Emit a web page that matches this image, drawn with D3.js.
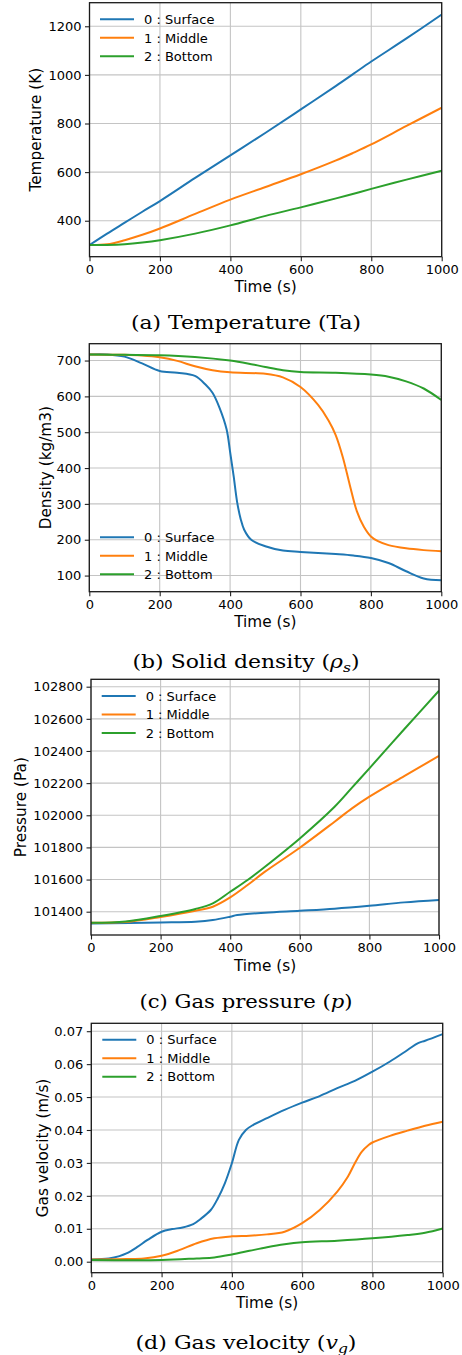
<!DOCTYPE html>
<html>
<head>
<meta charset="utf-8">
<script src="https://cdn.jsdelivr.net/npm/d3@7"></script>
<style>
  body { margin: 0; background: #fff; }
  svg { display: block; }
  text { font-family: "DejaVu Sans", sans-serif; fill: #000; }
  .caption { font-family: "DejaVu Serif", serif; }
</style>
</head>
<body>
<svg id="fig" width="462" height="1355"></svg>
<script>
// ---------------- DATA
var seriesNames = ['0 : Surface', '1 : Middle', '2 : Bottom'];
var xTicks = [0, 200, 400, 600, 800, 1000];

// (a) temperature
var tempTime = [0, 50, 100, 150, 200, 300, 400, 500, 600, 700, 750, 800, 900, 1000];
var tempSurface = [300, 347, 392, 437, 481, 576, 669, 762, 858, 955, 1005, 1055, 1150, 1248];
var tempMiddle = [300, 303, 320, 342, 368, 428, 487, 539, 591, 648, 680, 714, 790, 865];
var tempBottom = [300, 300, 303, 310, 320, 347, 381, 420, 455, 492, 511, 531, 569, 606];
var tempTicks = [400, 600, 800, 1000, 1200];
var tempLim = [252, 1297];

// (b) solid density
var densTimeSurface = [0, 50, 100, 150, 200, 250, 300, 330, 350, 370, 390, 400, 410, 420, 430, 440, 460, 500, 550, 600, 700, 750, 800, 850, 900, 950, 1000];
var densSurface = [717, 717, 711, 692, 671, 666, 657, 633, 610, 568, 508, 445, 378, 305, 258, 228, 200, 182, 170, 166, 160, 156, 149, 135, 112, 92, 87];
var densTimeMiddle = [0, 100, 150, 200, 250, 300, 350, 400, 500, 550, 600, 650, 680, 700, 720, 740, 760, 780, 800, 820, 850, 900, 950, 1000];
var densMiddle = [717, 716, 714, 709, 699, 684, 673, 667, 663, 653, 626, 576, 532, 492, 431, 353, 280, 236, 209, 196, 185, 176, 171, 168];
var densTimeBottom = [0, 100, 200, 300, 400, 450, 500, 550, 600, 700, 800, 850, 900, 950, 1000];
var densBottom = [717, 716, 715, 710, 700, 692, 682, 673, 668, 666, 661, 655, 642, 622, 590];
var densTicks = [100, 200, 300, 400, 500, 600, 700];
var densLim = [55, 747];

// (c) gas pressure
var presTimeSurface = [0, 200, 300, 350, 400, 420, 500, 600, 700, 800, 900, 1000];
var presSurface = [101327, 101333, 101338, 101348, 101369, 101379, 101394, 101406, 101419, 101437, 101458, 101473];
var presTime = [0, 100, 200, 300, 350, 400, 450, 500, 600, 700, 750, 800, 900, 1000];
var presMiddle = [101331, 101336, 101367, 101406, 101431, 101489, 101566, 101649, 101798, 101960, 102043, 102116, 102244, 102369];
var presBottom = [101331, 101339, 101373, 101417, 101452, 101524, 101597, 101680, 101856, 102053, 102172, 102292, 102535, 102775];
var presTicks = [101400, 101600, 101800, 102000, 102200, 102400, 102600, 102800];
var presLim = [101255, 102846];

// (d) gas velocity
var velTimeSurface = [0, 50, 80, 100, 130, 160, 200, 230, 260, 290, 310, 340, 360, 380, 400, 420, 440, 460, 500, 550, 600, 650, 700, 750, 800, 850, 900, 930, 950, 1000];
var velSurface = [0.0007, 0.001, 0.0017, 0.0025, 0.0044, 0.0066, 0.0091, 0.0099, 0.0104, 0.0114, 0.0129, 0.0157, 0.0192, 0.0238, 0.0299, 0.037, 0.040, 0.0415, 0.0436, 0.0461, 0.0483, 0.0503, 0.0527, 0.0549, 0.0577, 0.0608, 0.0643, 0.0664, 0.0671, 0.0691];
var velTimeMiddle = [0, 100, 150, 200, 250, 300, 350, 400, 450, 500, 550, 600, 650, 700, 730, 750, 770, 790, 800, 850, 900, 950, 1000];
var velMiddle = [0.0007, 0.0008, 0.001, 0.0018, 0.0035, 0.0056, 0.0071, 0.0077, 0.0079, 0.0083, 0.0091, 0.0117, 0.0157, 0.0213, 0.0258, 0.0299, 0.0334, 0.0355, 0.0362, 0.0382, 0.0398, 0.0413, 0.0425];
var velTimeBottom = [0, 200, 300, 350, 400, 450, 500, 550, 600, 700, 800, 900, 950, 1000];
var velBottom = [0.0005, 0.0005, 0.001, 0.0013, 0.0022, 0.0033, 0.0044, 0.0053, 0.0059, 0.0064, 0.0071, 0.0081, 0.0088, 0.0101];
var velTicks = [0, 0.01, 0.02, 0.03, 0.04, 0.05, 0.06, 0.07];
var velLim = [-0.00334, 0.0724];

(function() {
	var colors = ['#1f77b4', '#ff7f0e', '#2ca02c'];
	var svg = d3.select('#fig');

	function zip(xs, ys) {
		return xs.map(function(x, i) { return [x, ys[i]]; });
	}

	// one subplot: axes box, grid, curves, legend, labels, caption
	function drawPanel(p, idx) {
		var g = svg.append('g');
		var x = d3.scaleLinear().domain([0, 1000]).range([p.left, p.right]);
		var y = d3.scaleLinear().domain(p.ylim).range([p.bottom, p.top]);

		// grid
		g.selectAll('.gx').data(xTicks).enter().append('line')
			.attr('x1', function(d) { return x(d); }).attr('x2', function(d) { return x(d); })
			.attr('y1', p.top).attr('y2', p.bottom)
			.attr('stroke', '#c4c4c4').attr('stroke-width', 1.1);
		g.selectAll('.gy').data(p.yticks).enter().append('line')
			.attr('x1', p.left).attr('x2', p.right)
			.attr('y1', function(d) { return y(d); }).attr('y2', function(d) { return y(d); })
			.attr('stroke', '#c4c4c4').attr('stroke-width', 1.1);

		// curves
		var clipId = 'clip' + idx;
		svg.append('clipPath').attr('id', clipId).append('rect')
			.attr('x', p.left).attr('y', p.top)
			.attr('width', p.right - p.left).attr('height', p.bottom - p.top);
		var line = d3.line()
			.x(function(d) { return x(d[0]); })
			.y(function(d) { return y(d[1]); })
			.curve(d3.curveCatmullRom.alpha(0.5));
		p.series.forEach(function(s, i) {
			g.append('path').datum(s)
				.attr('clip-path', 'url(#' + clipId + ')')
				.attr('d', line)
				.attr('fill', 'none')
				.attr('stroke', colors[i])
				.attr('stroke-width', 2);
		});

		// axes, ticks outward like matplotlib
		var xAxis = d3.axisBottom(x).tickValues(xTicks).tickSize(4.5).tickPadding(3.5).tickFormat(d3.format('d'));
		var yAxis = d3.axisLeft(y).tickValues(p.yticks).tickSize(4.5).tickPadding(3.5).tickFormat(p.fmt);
		var ax = g.append('g').attr('transform', 'translate(0,' + p.bottom + ')').call(xAxis);
		var ay = g.append('g').attr('transform', 'translate(' + p.left + ',0)').call(yAxis);
		[ax, ay].forEach(function(a) {
			a.select('.domain').remove();
			a.selectAll('line').attr('stroke', '#222').attr('stroke-width', 1.1);
			a.selectAll('text').attr('font-size', 13).attr('font-family', '"DejaVu Sans", sans-serif').attr('fill', '#111');
		});

		// frame
		g.append('rect')
			.attr('x', p.left).attr('y', p.top)
			.attr('width', p.right - p.left).attr('height', p.bottom - p.top)
			.attr('fill', 'none').attr('stroke', '#1a1a1a').attr('stroke-width', 1.3);

		// legend (no frame)
		seriesNames.forEach(function(name, i) {
			var ly = p.legendY + i * 18.5;
			g.append('line')
				.attr('x1', p.legendX).attr('x2', p.legendX + 34)
				.attr('y1', ly).attr('y2', ly)
				.attr('stroke', colors[i]).attr('stroke-width', 2);
			g.append('text')
				.attr('x', p.legendX + 44).attr('y', ly + 4.7)
				.attr('font-size', 13)
				.text(name);
		});

		// axis labels
		g.append('text')
			.attr('x', (p.left + p.right) / 2).attr('y', p.bottom + 35.5)
			.attr('text-anchor', 'middle').attr('font-size', 15.3)
			.text('Time (s)');
		g.append('text')
			.attr('transform', 'translate(' + p.ylabelX + ',' + ((p.top + p.bottom) / 2) + ') rotate(-90)')
			.attr('text-anchor', 'middle').attr('font-size', 15.3)
			.text(p.ylabel);

		// caption
		var cap = g.append('text').attr('class', 'caption')
			.attr('x', 246).attr('y', p.captionY)
			.attr('text-anchor', 'middle').attr('font-size', 18.5)
			.attr('textLength', p.captionW).attr('lengthAdjust', 'spacingAndGlyphs');
		cap.append('tspan').text(p.caption[0]);
		if (p.caption[1]) {
			cap.append('tspan').attr('font-style', 'italic').text(p.caption[1]);
			if (p.caption[2]) {
				cap.append('tspan').attr('font-style', 'italic').attr('font-size', 13)
					.attr('dy', 4).text(p.caption[2]);
				cap.append('tspan').attr('dy', -4).text(')');
			} else {
				cap.append('tspan').text(')');
			}
		}
	}

	var panels = [
		{
			left: 89.5, right: 441.7, top: 2.7, bottom: 256.7,
			ylim: tempLim, yticks: tempTicks, fmt: d3.format('d'),
			series: [zip(tempTime, tempSurface), zip(tempTime, tempMiddle), zip(tempTime, tempBottom)],
			legendX: 100, legendY: 19.3,
			ylabel: 'Temperature (K)', ylabelX: 40.7,
			caption: ['(a) Temperature (Ta)'], captionY: 328.5, captionW: 230
		},
		{
			left: 89.3, right: 441.3, top: 343.7, bottom: 591.7,
			ylim: densLim, yticks: densTicks, fmt: d3.format('d'),
			series: [zip(densTimeSurface, densSurface), zip(densTimeMiddle, densMiddle), zip(densTimeBottom, densBottom)],
			legendX: 100, legendY: 537.3,
			ylabel: 'Density (kg/m3)', ylabelX: 50.5,
			caption: ['(b) Solid density (', 'ρ', 's'], captionY: 667.5, captionW: 227
		},
		{
			left: 91, right: 439, top: 679.3, bottom: 935,
			ylim: presLim, yticks: presTicks, fmt: d3.format('d'),
			series: [zip(presTimeSurface, presSurface), zip(presTime, presMiddle), zip(presTime, presBottom)],
			legendX: 101.7, legendY: 696,
			ylabel: 'Pressure (Pa)', ylabelX: 25.5,
			caption: ['(c) Gas pressure (', 'p'], captionY: 1008, captionW: 213
		},
		{
			left: 91.3, right: 442.7, top: 1023.3, bottom: 1272.7,
			ylim: velLim, yticks: velTicks, fmt: d3.format('.2f'),
			series: [zip(velTimeSurface, velSurface), zip(velTimeMiddle, velMiddle), zip(velTimeBottom, velBottom)],
			legendX: 102.3, legendY: 1039.7,
			ylabel: 'Gas velocity (m/s)', ylabelX: 48,
			caption: ['(d) Gas velocity (', 'v', 'g'], captionY: 1349, captionW: 221
		}
	];

	panels.forEach(drawPanel);
}());
</script>
</body>
</html>
